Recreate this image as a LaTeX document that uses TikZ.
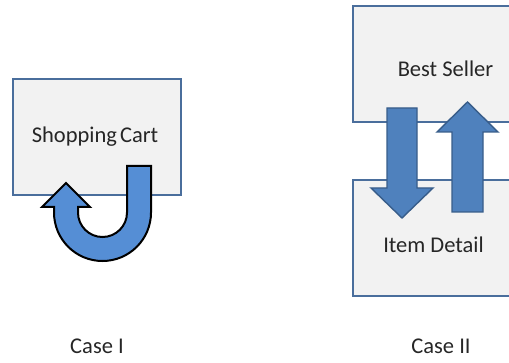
\documentclass[tikz,border=0pt]{standalone}
\usepackage{fontspec}
\setmainfont{Carlito}
\begin{document}
\begin{tikzpicture}[x=1pt,y=1pt,
  pagebox/.style={draw=boxline,fill=boxfill,line width=1.9pt,inner sep=0pt,anchor=south west},
  label/.style={font=\fontsize{22.5}{25}\selectfont,text=black!85,anchor=base,inner sep=0pt},
  fatarrow/.style={fill=arrowfill,draw=arrowline,line width=1.4pt,line join=miter},
  loopstyle/.style={fill=loopfill,draw=black,line width=2pt,line join=miter}]
\definecolor{boxfill}{HTML}{F2F2F2}
\definecolor{boxline}{HTML}{4A6E9C}
\definecolor{arrowfill}{HTML}{4F81BD}
\definecolor{arrowline}{HTML}{385D8A}
\definecolor{loopfill}{HTML}{558ED5}
\useasboundingbox (0,0) rectangle (509,362);
\clip (0,0) rectangle (509,362);

% Case I: a page that links back to itself
\node[pagebox,minimum width=168pt,minimum height=116pt] (cart) at (12,166) {};
\node[label] (carttext) at (95,219) {Shopping\hspace{-2pt} Cart};
\draw[loopstyle] (127,196) -- (151,196) -- (151,149.5)
  arc[start angle=0,end angle=-180,radius=48.5]
  -- (54,155) -- (42,155) -- (66,179) -- (90,155) -- (78,155) -- (78,149.5)
  arc[start angle=180,end angle=360,radius=24.5] -- cycle;

% Case II: two pages linking to each other
\node[pagebox,minimum width=170pt,minimum height=116pt] (seller) at (352,239) {};
\node[pagebox,minimum width=170pt,minimum height=116pt] (detail) at (352,65) {};
\node[label] (sellertext) at (445.5,285) {Best Seller};
\node[label] (detailtext) at (433.5,110) {Item Detail};
\draw[fatarrow] (387,254) -- (417,254) -- (417,174) -- (433,174) -- (402,144)
  -- (371,174) -- (387,174) -- cycle;
\draw[fatarrow] (452,150) -- (483,150) -- (483,230) -- (498,230) -- (467.5,260)
  -- (437,230) -- (452,230) -- cycle;

% captions
\node[label] (case1) at (97,9) {Case I};
\node[label] (case2) at (441,9) {Case II};
\end{tikzpicture}
\end{document}
